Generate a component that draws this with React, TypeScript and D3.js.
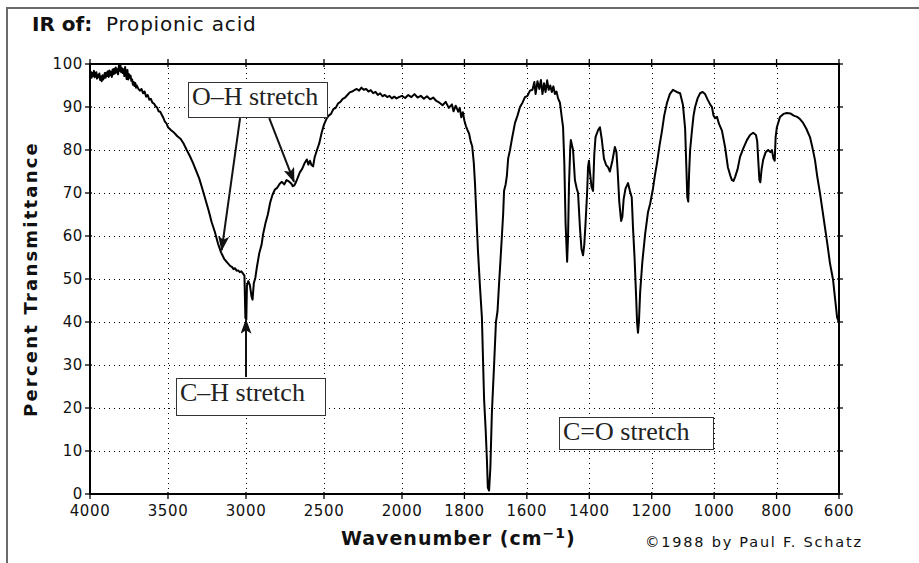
import { useEffect, useRef } from "react";
import * as d3 from "d3";

const W = 919;
const H = 563;

// IR spectrum: [wavenumber cm-1, % transmittance]
const spectrum: [number, number][] = [
  [4000, 97.0], [3995, 98.2], [3990, 96.8], [3985, 97.9], [3980, 97.2], [3975, 98.4],
  [3970, 96.9], [3965, 97.7], [3960, 98.1], [3955, 96.6], [3950, 97.5], [3945, 96.9],
  [3940, 97.8], [3935, 96.3], [3930, 97.1], [3925, 96.0], [3920, 97.4], [3915, 96.4],
  [3910, 97.0], [3905, 97.9], [3900, 96.8], [3895, 98.0], [3890, 97.2], [3885, 98.3],
  [3880, 97.0], [3875, 98.5], [3870, 97.4], [3865, 98.2], [3860, 97.0], [3855, 98.7],
  [3850, 97.6], [3845, 98.9], [3840, 97.8], [3835, 99.2], [3830, 98.0], [3825, 98.8],
  [3820, 97.6], [3815, 99.6], [3810, 98.4], [3805, 99.8], [3800, 98.1], [3795, 99.0],
  [3790, 97.9], [3785, 98.8], [3780, 97.2], [3775, 99.3], [3770, 97.8], [3765, 96.5],
  [3760, 98.6], [3755, 96.4], [3750, 97.6], [3745, 96.8], [3740, 97.3], [3735, 96.1],
  [3730, 96.4], [3725, 95.2], [3720, 95.8], [3715, 94.9], [3710, 95.6], [3705, 94.5],
  [3700, 95.0], [3690, 94.2], [3680, 93.8], [3670, 94.2], [3660, 93.2], [3650, 93.6],
  [3640, 92.4], [3630, 92.8], [3620, 91.7], [3610, 91.9], [3600, 91.0], [3590, 90.8],
  [3580, 90.2], [3570, 89.9], [3560, 89.0], [3550, 88.9], [3540, 88.2], [3530, 87.5],
  [3520, 86.6], [3510, 86.2], [3500, 85.3], [3480, 84.6], [3460, 84.0], [3440, 83.2],
  [3420, 82.6], [3400, 81.5], [3380, 80.0], [3360, 78.6], [3340, 77.0], [3320, 75.2],
  [3300, 73.4], [3280, 71.0], [3260, 68.5], [3240, 66.0], [3220, 63.2], [3200, 61.0],
  [3180, 58.3], [3160, 56.2], [3140, 54.7], [3120, 53.8], [3100, 53.0], [3090, 52.8],
  [3080, 52.3], [3070, 52.5], [3060, 51.9], [3050, 52.0], [3040, 51.6], [3030, 51.8],
  [3020, 51.3], [3010, 50.8], [3004, 41.0], [2998, 40.6], [2994, 48.5], [2985, 49.5],
  [2975, 48.6], [2965, 46.0], [2958, 45.2], [2950, 49.0], [2940, 50.3], [2930, 52.8],
  [2915, 56.0], [2900, 58.0], [2890, 60.5], [2875, 63.0], [2860, 65.0], [2845, 67.8],
  [2830, 69.6], [2815, 70.8], [2800, 71.2], [2785, 72.1], [2770, 72.6], [2755, 72.0],
  [2740, 73.0], [2725, 72.7], [2710, 72.2], [2700, 71.6], [2690, 71.8], [2680, 72.5],
  [2670, 73.4], [2655, 74.8], [2640, 75.6], [2625, 76.9], [2610, 77.8], [2600, 76.6],
  [2590, 77.5], [2580, 76.5], [2570, 76.2], [2560, 78.3], [2545, 80.0], [2530, 81.6],
  [2515, 84.0], [2500, 85.9], [2485, 87.2], [2470, 88.0], [2455, 88.4], [2440, 89.5],
  [2425, 89.8], [2410, 90.8], [2395, 91.2], [2380, 91.9], [2365, 92.2], [2350, 92.8],
  [2335, 93.4], [2320, 93.6], [2305, 93.9], [2290, 94.2], [2275, 93.8], [2260, 94.5],
  [2245, 94.0], [2230, 94.2], [2215, 93.6], [2200, 93.9], [2185, 93.2], [2170, 93.5],
  [2155, 92.8], [2140, 93.2], [2125, 92.5], [2110, 92.8], [2095, 92.3], [2080, 92.6],
  [2065, 92.0], [2050, 92.4], [2035, 92.0], [2020, 92.3], [2000, 92.6], [1990, 92.1],
  [1980, 92.8], [1970, 92.3], [1960, 93.0], [1950, 92.2], [1940, 92.6], [1930, 91.9],
  [1920, 92.5], [1910, 91.8], [1900, 92.2], [1890, 91.4], [1880, 91.0], [1870, 90.4],
  [1860, 91.2], [1850, 89.8], [1840, 90.6], [1835, 89.0], [1828, 90.3], [1820, 88.9],
  [1815, 89.8], [1810, 87.6], [1805, 88.8], [1800, 86.8], [1795, 85.5], [1790, 84.6],
  [1785, 83.8], [1780, 82.0], [1775, 80.8], [1770, 77.0], [1766, 72.0], [1760, 62.0],
  [1757, 57.0], [1750, 48.0], [1744, 41.0], [1740, 30.0], [1737, 22.0], [1732, 15.0],
  [1728, 8.0], [1725, 1.5], [1721, 0.8], [1717, 6.0], [1712, 19.0], [1705, 30.0],
  [1699, 40.0], [1694, 42.5], [1689, 49.0], [1684, 55.0], [1680, 60.0], [1676, 65.0],
  [1673, 70.5], [1668, 72.0], [1664, 74.0], [1660, 78.0], [1654, 80.0], [1648, 82.5],
  [1638, 86.3], [1630, 88.0], [1622, 90.0], [1614, 91.0], [1606, 92.3], [1598, 92.6],
  [1590, 93.8], [1582, 94.0], [1576, 95.8], [1572, 93.0], [1566, 96.0], [1560, 94.2],
  [1555, 96.3], [1550, 93.0], [1545, 95.5], [1540, 93.5], [1535, 96.2], [1530, 94.0],
  [1525, 95.0], [1520, 93.5], [1515, 94.8], [1510, 93.0], [1505, 93.6], [1500, 92.0],
  [1494, 91.0], [1488, 87.5], [1484, 85.3], [1480, 77.0], [1476, 63.0], [1471, 54.0],
  [1468, 60.0], [1465, 72.0], [1461, 80.5], [1459, 82.3], [1455, 81.0], [1452, 80.0],
  [1446, 73.0], [1440, 71.0], [1436, 70.0], [1430, 62.0], [1425, 57.0], [1420, 55.5],
  [1416, 58.0], [1412, 63.0], [1407, 70.0], [1404, 76.0], [1401, 77.5], [1398, 75.0],
  [1393, 71.5], [1388, 70.5], [1384, 79.0], [1380, 83.0], [1372, 84.6], [1366, 85.3],
  [1360, 82.5], [1353, 78.0], [1346, 76.5], [1340, 76.0], [1334, 75.0], [1326, 77.5],
  [1318, 80.7], [1313, 79.5], [1309, 75.0], [1304, 68.0], [1298, 63.5], [1294, 64.5],
  [1290, 68.5], [1284, 71.0], [1276, 72.3], [1270, 70.5], [1264, 69.0], [1260, 62.0],
  [1255, 55.0], [1250, 46.0], [1247, 40.0], [1244, 37.5], [1241, 40.0], [1237, 47.0],
  [1230, 54.0], [1221, 60.5], [1212, 65.5], [1205, 67.5], [1196, 71.0], [1190, 74.0],
  [1183, 77.0], [1175, 81.0], [1167, 84.5], [1160, 88.0], [1151, 91.0], [1142, 93.0],
  [1132, 94.0], [1120, 93.5], [1109, 93.2], [1100, 90.5], [1093, 85.0], [1089, 76.0],
  [1086, 69.0], [1083, 68.0], [1080, 75.0], [1077, 80.0], [1071, 84.6], [1066, 88.0],
  [1061, 90.0], [1053, 92.0], [1045, 93.2], [1037, 93.5], [1029, 93.0], [1020, 91.6],
  [1012, 90.5], [1007, 90.0], [1002, 88.0], [997, 87.4], [991, 87.7], [984, 86.0],
  [975, 84.5], [965, 80.7], [956, 76.0], [948, 74.0], [943, 73.0], [938, 72.8],
  [933, 73.7], [925, 75.5], [917, 78.4], [906, 80.5], [895, 82.3], [885, 83.5],
  [875, 84.0], [866, 83.5], [862, 82.0], [859, 78.0], [855, 73.0], [852, 72.5],
  [848, 75.5], [843, 77.7], [835, 79.5], [827, 80.0], [820, 79.5], [815, 80.0],
  [810, 78.0], [806, 77.5], [803, 83.0], [799, 85.3], [789, 87.7], [778, 88.4],
  [767, 88.6], [756, 88.5], [745, 88.0], [734, 87.7], [725, 87.2], [715, 86.3],
  [705, 85.0], [693, 83.0], [685, 80.5], [677, 77.7], [670, 74.0], [661, 70.0],
  [653, 66.0], [645, 62.0], [637, 58.0], [629, 53.7], [622, 51.0], [619, 49.8],
  [612, 45.0], [606, 41.0], [600, 40.0],
];

const xTicks = [4000, 3500, 3000, 2500, 2000, 1800, 1600, 1400, 1200, 1000, 800, 600];
const yTicks = [0, 10, 20, 30, 40, 50, 60, 70, 80, 90, 100];

// annotation boxes, corners in data units [wavenumber, %T]
const noteText = ["O–H stretch", "C–H stretch", "C=O stretch"];
const noteTopLeft: [number, number][] = [[3372, 95.8], [3449, 27.0], [1497, 17.9]];
const noteBottomRight: [number, number][] = [[2481, 87.7], [2494, 18.4], [1004, 10.5]];

// arrows: tail -> head, data units
const arrowFrom: [number, number][] = [[3038, 87.4], [2851, 87.4], [3000, 27.2]];
const arrowTo: [number, number][] = [[3156, 56.7], [2692, 72.6], [3000, 40.5]];

const SANS = "'DejaVu Sans', Verdana, sans-serif";
const SERIF = "'Liberation Serif', 'Times New Roman', serif";

export default function App() {
  const ref = useRef<SVGSVGElement | null>(null);

  useEffect(() => {
    if (!ref.current) return;
    const svg = d3.select(ref.current);
    svg.selectAll("*").remove();

    // IR charts switch scale at 2000 cm-1
    const x = d3.scaleLinear().domain([4000, 2000, 600]).range([90, 402, 839]);
    const y = d3.scaleLinear().domain([0, 100]).range([494, 64]);
    const [x0, x1] = [x(4000), x(600)];
    const [y0, y1] = [y(0), y(100)];

    svg.append("rect").attr("width", W).attr("height", H).attr("fill", "#fff");

    // window edge
    svg.append("path")
      .attr("d", `M7,${H} L7,8 L${W},8`)
      .attr("fill", "none")
      .attr("stroke", "#6a6a6a")
      .attr("stroke-width", 2);

    const title = svg.append("text")
      .attr("x", 32)
      .attr("y", 31)
      .attr("font-family", SANS)
      .attr("font-size", 20)
      .attr("fill", "#111");
    title.append("tspan").attr("font-weight", "bold").text("IR of:");
    title.append("tspan").attr("x", 106).attr("letter-spacing", 0.8).text("Propionic acid");

    // dotted grid
    const grid = svg.append("g")
      .attr("stroke", "#000")
      .attr("stroke-width", 1)
      .attr("stroke-dasharray", "1 4");
    grid.selectAll("line.v")
      .data(xTicks.slice(1, -1))
      .join("line")
      .attr("class", "v")
      .attr("x1", (d) => Math.round(x(d)) + 0.5)
      .attr("x2", (d) => Math.round(x(d)) + 0.5)
      .attr("y1", y1 + 4)
      .attr("y2", y0);
    grid.selectAll("line.h")
      .data(yTicks.slice(1, -1))
      .join("line")
      .attr("class", "h")
      .attr("x1", x0 + 4)
      .attr("x2", x1)
      .attr("y1", (d) => Math.round(y(d)) + 0.5)
      .attr("y2", (d) => Math.round(y(d)) + 0.5);

    // spectrum
    const line = d3.line<[number, number]>()
      .x((d) => x(d[0]))
      .y((d) => y(d[1]));
    svg.append("path")
      .datum(spectrum)
      .attr("d", line)
      .attr("fill", "none")
      .attr("stroke", "#000")
      .attr("stroke-width", 2)
      .attr("stroke-linejoin", "round");

    // frame and ticks
    const axes = svg.append("g").attr("stroke", "#000").attr("fill", "none");
    axes.append("rect")
      .attr("x", x0)
      .attr("y", y1)
      .attr("width", x1 - x0)
      .attr("height", y0 - y1)
      .attr("stroke-width", 2);
    axes.selectAll("line.yl")
      .data(yTicks)
      .join("line")
      .attr("x1", x0 - 5).attr("x2", x0 + 2)
      .attr("y1", (d) => y(d)).attr("y2", (d) => y(d))
      .attr("stroke-width", 1.3);
    axes.selectAll("line.yr")
      .data(yTicks)
      .join("line")
      .attr("x1", x1 - 2).attr("x2", x1 + 4)
      .attr("y1", (d) => y(d)).attr("y2", (d) => y(d))
      .attr("stroke-width", 1.3);
    axes.selectAll("line.xb")
      .data(xTicks)
      .join("line")
      .attr("x1", (d) => x(d)).attr("x2", (d) => x(d))
      .attr("y1", y0 - 2).attr("y2", y0 + 5)
      .attr("stroke-width", 1.3);
    axes.selectAll("line.xt")
      .data(xTicks)
      .join("line")
      .attr("x1", (d) => x(d)).attr("x2", (d) => x(d))
      .attr("y1", y1 - 5).attr("y2", y1 + 3)
      .attr("stroke-width", 1.3);

    svg.append("g")
      .attr("font-family", SANS)
      .attr("font-size", 15)
      .attr("fill", "#111")
      .attr("text-anchor", "end")
      .attr("letter-spacing", 0.6)
      .selectAll("text")
      .data(yTicks)
      .join("text")
      .attr("x", x0 - 7)
      .attr("y", (d) => y(d))
      .attr("dy", "0.36em")
      .text((d) => d);

    svg.append("g")
      .attr("font-family", SANS)
      .attr("font-size", 15)
      .attr("fill", "#111")
      .attr("text-anchor", "middle")
      .attr("letter-spacing", 0.6)
      .selectAll("text")
      .data(xTicks)
      .join("text")
      .attr("x", (d) => x(d))
      .attr("y", y0 + 22)
      .text((d) => d);

    svg.append("text")
      .attr("transform", `translate(37,${(y(15) + y(85)) / 2}) rotate(-90)`)
      .attr("text-anchor", "middle")
      .attr("font-family", SANS)
      .attr("font-weight", "bold")
      .attr("font-size", 18)
      .attr("letter-spacing", 2.2)
      .attr("fill", "#111")
      .text("Percent Transmittance");

    const xl = svg.append("text")
      .attr("x", 341)
      .attr("y", 545)
      .attr("font-family", SANS)
      .attr("font-weight", "bold")
      .attr("font-size", 19)
      .attr("letter-spacing", 1)
      .attr("fill", "#111");
    xl.append("tspan").text("Wavenumber (cm");
    xl.append("tspan").attr("dy", -7).attr("font-size", 14).text("−1");
    xl.append("tspan").attr("dy", 7).text(")");

    svg.append("text")
      .attr("x", 645)
      .attr("y", 547)
      .attr("font-family", SANS)
      .attr("font-size", 14.5)
      .attr("textLength", 216)
      .attr("lengthAdjust", "spacing")
      .attr("fill", "#111")
      .text("©1988 by Paul F. Schatz");

    // annotations
    const notes = svg.append("g");
    noteText.forEach((t, i) => {
      const [lx, ty] = noteTopLeft[i];
      const [rx, by] = noteBottomRight[i];
      notes.append("rect")
        .attr("x", Math.round(x(lx)) + 0.5)
        .attr("y", Math.round(y(ty)) + 0.5)
        .attr("width", Math.round(x(rx) - x(lx)))
        .attr("height", Math.round(y(by) - y(ty)))
        .attr("fill", "#fff")
        .attr("stroke", "#333")
        .attr("stroke-width", 1);
      notes.append("text")
        .attr("x", x(lx) + 4)
        .attr("y", y(ty) + 23)
        .attr("font-family", SERIF)
        .attr("font-size", 26)
        .attr("fill", "#222")
        .text(t);
    });

    svg.append("defs")
      .append("marker")
      .attr("id", "head")
      .attr("viewBox", "0 0 15 11")
      .attr("refX", 14)
      .attr("refY", 5.5)
      .attr("markerWidth", 15)
      .attr("markerHeight", 11)
      .attr("markerUnits", "userSpaceOnUse")
      .attr("orient", "auto")
      .append("path")
      .attr("d", "M0,0 L15,5.5 L0,11 L3.5,5.5 Z")
      .attr("fill", "#111");

    svg.append("g")
      .selectAll("line")
      .data(arrowFrom)
      .join("line")
      .attr("x1", (d) => x(d[0]))
      .attr("y1", (d) => y(d[1]))
      .attr("x2", (_, i) => x(arrowTo[i][0]))
      .attr("y2", (_, i) => y(arrowTo[i][1]))
      .attr("stroke", "#111")
      .attr("stroke-width", 2)
      .attr("marker-end", "url(#head)");
  }, []);

  return (
    <svg
      ref={ref}
      width={W}
      height={H}
      style={{ position: "absolute", left: 0, top: 0, display: "block" }}
    />
  );
}
